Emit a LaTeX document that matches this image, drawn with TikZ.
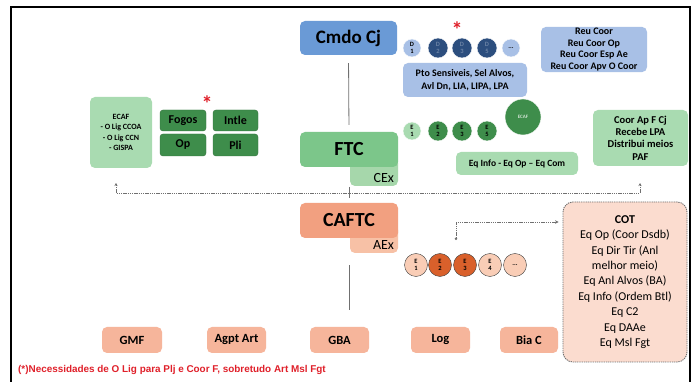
\documentclass[tikz,border=0pt]{standalone}
\usepackage{fontspec}
\setmainfont{Carlito}
\newfontfamily\notefont{Liberation Sans}
\usetikzlibrary{arrows.meta}

\definecolor{cmdoblue}{HTML}{6A9AD6}
\definecolor{lightblue}{HTML}{A8C0E6}
\definecolor{navy}{HTML}{2C4E7E}
\definecolor{ftcgreen}{HTML}{7CC68A}
\definecolor{cexgreen}{HTML}{A6D7AB}
\definecolor{palegreen}{HTML}{A9DBB1}
\definecolor{darkgreen}{HTML}{3E8D4B}
\definecolor{caftcorange}{HTML}{F2A080}
\definecolor{aexorange}{HTML}{F7C1A6}
\definecolor{unitorange}{HTML}{F6B59B}
\definecolor{cotpink}{HTML}{FBDCCF}
\definecolor{burnt}{HTML}{D9602B}
\definecolor{peach}{HTML}{F9CDB6}
\definecolor{linegray}{HTML}{707070}
\definecolor{noteRed}{HTML}{E0202A}

\newcommand\setfs[2]{\fontsize{#1}{#2}\selectfont}

\tikzset{
  box/.style={rectangle, rounded corners=5pt, inner sep=1pt, align=center, text=black},
  bolded/.style 2 args={font=\bfseries\setfs{#1}{#2}},
  dotcirc/.style={circle, inner sep=0pt, align=center, font=\bfseries\setfs{6.5}{6.5}},
  conn/.style={draw=linegray, line width=0.8pt},
  dotconn/.style={draw=linegray, line width=0.9pt, dash pattern=on 1.3pt off 0.9pt},
  starmark/.style={text=noteRed, font=\bfseries\setfs{22}{22}, inner sep=0pt, anchor=base}
}

\begin{document}
\begin{tikzpicture}[x=1pt,y=-1pt]
\useasboundingbox (0,0) rectangle (697,382);
\fill[white] (0,0) rectangle (697,382);

% outer frame
\draw[line width=1.2pt] (11,382) -- (11,7) -- (690,7) -- (690,382);

% ---- command level ----
\node[box, fill=cmdoblue, minimum width=97pt, minimum height=34pt, bolded={19}{21}] (cmdo) at (348.5,38) {Cmdo Cj};

\node[dotcirc, fill=lightblue, draw=white, minimum size=18pt] (d1) at (412,48) {D\\1};
\node[dotcirc, fill=navy, draw=white, text=navy!70!white, minimum size=20pt] (d2) at (438,48) {D\\2};
\node[dotcirc, fill=navy, draw=white, text=navy!70!white, minimum size=20pt] (d3) at (462,48) {D\\3};
\node[dotcirc, fill=navy, draw=white, text=navy!70!white, minimum size=20pt] (d5) at (487,48) {D\\5};
\node[dotcirc, fill=lightblue, draw=white, minimum size=18pt] (dn) at (511,48) {...};
\node[starmark] (stard) at (457,38) {*};

\node[box, fill=lightblue, minimum width=124pt, minimum height=34pt, bolded={10}{12.5}] (pto) at (465,80)
  {Pto Sensiveis, Sel Alvos,\\Avl Dn, LIA, LIPA, LPA};

\node[box, fill=lightblue, minimum width=106pt, minimum height=45pt, bolded={10}{11.7}] (reu) at (594,49.5)
  {Reu Coor\\Reu Coor Op\\Reu Coor Esp Ae\\Reu Coor Apv O Coor};

% ---- FTC level ----
\node[box, fill=cexgreen, minimum width=48pt, minimum height=28pt,
  label={[anchor=south east, inner sep=0pt, xshift=-4pt, yshift=3pt, font=\setfs{14}{16}]south east:CEx}] (cex) at (374,172) {};
\node[box, fill=ftcgreen, minimum width=98pt, minimum height=35pt, bolded={20}{22}] (ftc) at (349,149.5) {FTC};

\node[box, fill=palegreen, minimum width=62pt, minimum height=71pt, bolded={8}{10.3}] (ecafl) at (121,132.5)
  {ECAF\\- O Lig CCOA\\- O Lig CCN\\- GISPA};
\node[box, fill=darkgreen, draw=darkgreen!80!black, rounded corners=3pt, minimum width=46pt, minimum height=21pt, bolded={12}{14}] (fogos) at (183,120.5) {Fogos};
\node[box, fill=darkgreen, draw=darkgreen!80!black, rounded corners=3pt, minimum width=45pt, minimum height=21pt, bolded={12}{14}] (intle) at (235.5,120.5) {Intle};
\node[box, fill=darkgreen, draw=darkgreen!80!black, rounded corners=3pt, minimum width=46pt, minimum height=22pt, bolded={12}{14}] (op) at (183,145) {Op};
\node[box, fill=darkgreen, draw=darkgreen!80!black, rounded corners=3pt, minimum width=45pt, minimum height=22pt, bolded={12}{14}] (pli) at (235.5,145) {Pli};
\node[starmark] (starf) at (207,112) {*};

\node[dotcirc, fill=palegreen, draw=white, minimum size=18pt] (e1g) at (412,131) {E\\1};
\node[dotcirc, fill=darkgreen, draw=white, minimum size=20pt] (e2g) at (438,131) {E\\2};
\node[dotcirc, fill=darkgreen, draw=white, minimum size=20pt] (e3g) at (462,131) {E\\3};
\node[dotcirc, fill=darkgreen, draw=white, minimum size=20pt] (e5g) at (487,131) {E\\5};
\node[dotcirc, fill=darkgreen, draw=white, text=white!75!darkgreen, minimum size=36pt, bolded={5}{5}] (ecafc) at (523,117) {ECAF};

\node[box, fill=palegreen, minimum width=122pt, minimum height=23pt, bolded={9.5}{11}] (eqinfo) at (517,163.5)
  {Eq Info - Eq Op -- Eq Com};

\node[box, fill=palegreen, minimum width=95pt, minimum height=56pt, bolded={10.5}{12.3}] (coorap) at (640.5,138)
  {Coor Ap F Cj\\Recebe LPA\\Distribui meios\\PAF};

% ---- CAFTC level ----
\node[box, fill=aexorange, minimum width=48pt, minimum height=28pt,
  label={[anchor=south east, inner sep=0pt, xshift=-4pt, yshift=3pt, font=\setfs{14}{16}]south east:AEx}] (aex) at (374,239) {};
\node[box, fill=caftcorange, minimum width=98pt, minimum height=35pt, bolded={20}{22}] (caftc) at (349,220.5) {CAFTC};

\node[dotcirc, fill=peach, draw=black!75, minimum size=23pt] (e1o) at (416,265) {E\\1};
\node[dotcirc, fill=burnt, draw=black!75, minimum size=23pt] (e2o) at (440,265) {E\\2};
\node[dotcirc, fill=burnt, draw=black!75, minimum size=23pt] (e3o) at (465,265) {E\\3};
\node[dotcirc, fill=peach, draw=black!75, minimum size=23pt] (e4o) at (490,265) {E\\4};
\node[dotcirc, fill=peach, draw=black!75, minimum size=23pt] (eno) at (515,265) {...};

\node[box, fill=cotpink, minimum width=124pt, minimum height=160pt, rounded corners=10pt,
  dotconn, font=\setfs{12}{15.4}] (cot) at (625,282)
  {\textbf{COT}\\Eq Op (Coor Dsdb)\\Eq Dir Tir (Anl\\melhor meio)\\Eq Anl Alvos (BA)\\Eq Info (Ordem Btl)\\Eq C2\\Eq DAAe\\Eq Msl Fgt};

% ---- units ----
\node[box, fill=unitorange, minimum width=60pt, minimum height=26pt, bolded={12.5}{14}] (gmf) at (132,340) {GMF};
\node[box, fill=unitorange, minimum width=59pt, minimum height=26pt, bolded={12.5}{14}] (agpt) at (236.5,340) {Agpt Art};
\node[box, fill=unitorange, minimum width=59pt, minimum height=26pt, bolded={12.5}{14}] (gba) at (339.5,340) {GBA};
\node[box, fill=unitorange, minimum width=59pt, minimum height=26pt, bolded={12.5}{14}] (log) at (440.5,340) {Log};
\node[box, fill=unitorange, minimum width=58pt, minimum height=26pt, bolded={12.5}{14}] (biac) at (529,340) {Bia C};

\node[anchor=base west, inner sep=0pt, text=noteRed, font=\notefont\bfseries\setfs{9.9}{11}] (note) at (18,373)
  {(*)Necessidades de O Lig para Plj e Coor F, sobretudo Art Msl Fgt};

% ---- connectors ----
\draw[conn, shorten <=8pt, shorten >=7pt] (cmdo.south) -- (ftc.north);
\draw[conn, shorten <=27pt, shorten >=17pt] (caftc.south) -- (caftc.south |- gba.north);

\coordinate (tapl) at (116,183);
\coordinate (tapr) at (640,183);
\coordinate (busy) at (0,193);
\draw[dotconn, {Stealth[length=3pt,width=3pt]}-{Stealth[length=3pt,width=3pt]}]
  (tapl) -- (tapl |- busy) -- (tapr |- busy) -- (tapr);
\draw[conn] (349,187) -- (349,198);

\coordinate (etap) at (456,240);
\coordinate (ebend) at (456,222);
\draw[dotconn, {Circle[length=2.5pt]}-{Stealth[length=3.5pt,width=3.5pt]}, shorten >=4pt]
  (etap) -- (ebend) -- (ebend -| cot.west);
\end{tikzpicture}
\end{document}
